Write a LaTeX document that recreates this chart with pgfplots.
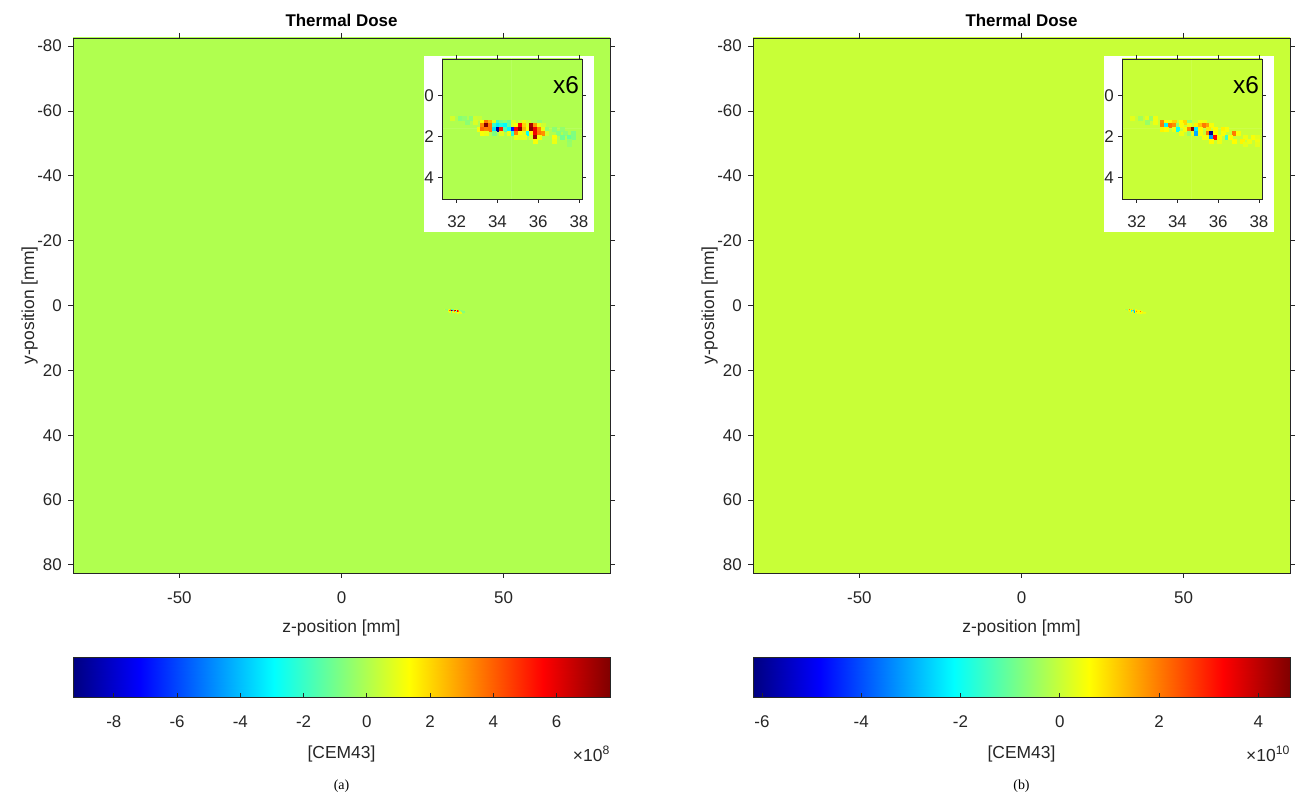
\documentclass[border=0pt]{standalone}
\usepackage{fontspec}
\setmainfont{Liberation Sans}
\newfontfamily\capfont{Liberation Serif}
\usepackage{pgfplots}
\usepackage{pgfplotstable}
\pgfplotsset{compat=1.18}
\definecolor{axgray}{HTML}{262626}

\pgfplotstableread{
x y c
-83 -83 0
83 -83 0
-83 83 0
83 83 0
}\bgtab

\pgfplotstableread{
x y c
31.2 -1.9 0
38.2 -1.9 0
31.2 5.1 0
38.2 5.1 0
}\bgtabinset

% colour bar strips (value axis in units of 1e8 / 1e10; stops of the jet map)
\pgfplotstableread{
x y
-9.29 0
-7.1675 0
-2.9225 0
1.3225 0
5.5675 0
7.69 0
-9.29 1
-7.1675 1
-2.9225 1
1.3225 1
5.5675 1
7.69 1
}\cbtabA

\pgfplotstableread{
x y
-6.18 0
-4.8275 0
-2.1225 0
0.5825 0
3.2875 0
4.64 0
-6.18 1
-4.8275 1
-2.1225 1
0.5825 1
3.2875 1
4.64 1
}\cbtabB

% panel (a): values in units of 1e8 CEM43
\pgfplotstableread{
x y c
31.785 1.085 0.6
32.155 1.085 -0.7
32.34 1.085 -0.5
32.71 1.085 -0.6
32.895 1.085 0.5
33.08 1.085 0.4
32.525 1.27 -0.6
32.895 1.27 0.7
33.265 1.27 1.3
33.45 1.27 3.5
33.635 1.27 2.5
33.82 1.27 0.8
34.005 1.27 -1.8
34.19 1.27 -1.0
34.375 1.27 -0.6
34.56 1.27 -1.2
34.745 1.27 0.7
35.115 1.27 0.5
35.3 1.27 1.0
35.485 1.27 0.5
36.04 1.27 -0.5
33.265 1.455 3.2
33.45 1.455 7.6
33.635 1.455 3.6
33.82 1.455 -2.0
34.005 1.455 -3.2
34.19 1.455 -2.4
34.375 1.455 -3.0
34.56 1.455 -1.2
34.745 1.455 0.8
34.93 1.455 1.2
35.115 1.455 5.6
35.3 1.455 2.0
35.485 1.455 0.9
35.67 1.455 7.0
35.855 1.455 3.0
36.04 1.455 1.0
36.225 1.455 0.5
33.08 1.64 1.1
33.265 1.64 3.8
33.45 1.64 3.4
33.635 1.64 3.6
33.82 1.64 -3.4
34.005 1.64 -9.0
34.19 1.64 5.2
34.375 1.64 -1.6
34.56 1.64 -3.0
34.745 1.64 -6.8
34.93 1.64 5.6
35.115 1.64 7.4
35.3 1.64 2.5
35.485 1.64 1.2
35.67 1.64 7.5
35.855 1.64 5.8
36.04 1.64 3.4
36.225 1.64 1.0
36.41 1.64 -0.5
36.78 1.64 -0.6
37.15 1.64 -0.5
33.265 1.825 1.2
33.45 1.825 1.0
33.82 1.825 -0.8
34.19 1.825 0.8
34.56 1.825 1.0
34.745 1.825 -2.2
34.93 1.825 3.4
35.115 1.825 1.3
35.3 1.825 0.9
35.485 1.825 -2.8
35.67 1.825 1.5
35.855 1.825 5.8
36.04 1.825 3.6
36.225 1.825 3.2
36.41 1.825 0.6
36.965 1.825 -0.7
37.335 1.825 -0.6
37.705 1.825 -0.8
34.93 2.01 1.0
35.115 2.01 0.8
35.3 2.01 0.9
35.67 2.01 0.6
35.855 2.01 7.2
36.04 2.01 1.1
36.78 2.01 1.2
37.15 2.01 -1.0
37.52 2.01 -1.2
37.705 2.01 -0.8
35.855 2.195 1.2
36.78 2.195 1.0
37.52 2.195 -0.5
37.52 2.38 -0.4
}\cellsA

% panel (b): values in units of 1e10 CEM43
\pgfplotstableread{
x y c
31.785 1.085 0.3
32.155 1.085 -0.4
32.525 1.085 0.3
32.71 1.085 -0.5
32.895 1.085 0.4
32.525 1.27 -0.5
32.895 1.27 0.4
33.265 1.27 1.9
33.45 1.27 0.6
33.635 1.27 0.5
33.82 1.27 1.0
34.19 1.27 0.6
34.375 1.27 1.0
34.56 1.27 -0.6
35.115 1.27 0.5
35.3 1.27 0.4
33.265 1.455 2.0
33.45 1.455 -2.2
33.635 1.455 2.1
33.82 1.455 1.8
34.005 1.455 -0.6
34.19 1.455 0.5
34.56 1.455 0.4
34.93 1.455 0.7
35.115 1.455 1.2
35.3 1.455 2.0
35.485 1.455 1.6
35.67 1.455 0.5
33.265 1.64 0.7
33.45 1.64 0.6
33.82 1.64 0.4
34.005 1.64 -2.0
34.375 1.64 0.5
34.56 1.64 1.9
34.745 1.64 4.5
34.93 1.64 -2.3
35.115 1.64 0.6
35.485 1.64 0.8
35.855 1.64 0.6
36.225 1.64 0.7
36.41 1.64 0.5
34.19 1.825 0.4
34.56 1.825 -0.5
34.745 1.825 0.4
34.93 1.825 -3.0
35.115 1.825 0.5
35.485 1.825 2.0
35.67 1.825 -6.0
35.855 1.825 0.6
36.225 1.825 0.5
36.78 1.825 2.0
36.965 1.825 0.5
35.3 2.01 0.5
35.485 2.01 0.4
35.67 2.01 -3.2
35.855 2.01 3.3
36.04 2.01 0.5
36.41 2.01 -1.5
36.595 2.01 0.6
37.335 2.01 0.4
37.705 2.01 0.5
37.89 2.01 0.3
35.67 2.195 0.6
36.04 2.195 0.4
36.78 2.195 0.6
37.15 2.195 0.7
37.52 2.195 0.4
37.89 2.195 0.4
37.335 2.38 0.3
37.89 2.38 0.3
}\cellsB

\pgfplotsset{
  baseax/.style={
    scale only axis, anchor=south west, y dir=reverse, axis on top,
    tick align=outside, xtick pos=both, ytick pos=both,
    major tick length=5bp,
    axis line style={draw=axgray, line width=0.8bp},
    every tick/.style={draw=axgray, line width=0.8bp},
    tick label style={font=\fontsize{17}{20}\selectfont, text=axgray},
    /pgf/number format/assume math mode=true,
    xticklabel style={anchor=base},
    yticklabel style={anchor=east, inner sep=0pt},
    colormap/jet,
    scaled ticks=false,
  },
  mainax/.style={
    baseax, width=537bp, height=535bp,
    xmin=-82.8, xmax=82.8, ymin=-82.5, ymax=82.5,
    xtick={-50,0,50}, ytick={-80,-60,...,80},
    xticklabel shift=26bp, yticklabel shift=6bp,
    title={Thermal Dose},
    title style={at={(axis description cs:0.5,1.0112)}, anchor=base,
      font=\bfseries\fontsize{17}{20}\selectfont, text=black},
    xlabel={z-position [mm]},
    xlabel style={at={(axis description cs:0.5,-0.1103)}, anchor=base,
      font=\fontsize{17.5}{21}\selectfont, text=axgray},
    ylabel={y-position [mm]},
    ylabel style={at={(axis description cs:-0.0726,0.5)}, anchor=base,
      font=\fontsize{17.5}{21}\selectfont, text=axgray},
  },
  cbarax/.style={
    scale only axis, anchor=south west, width=537bp, height=40.4bp,
    axis on top, clip=false,
    ymin=0, ymax=1, ytick=\empty,
    xtick align=inside, xtick pos=left,
    major tick length=5bp,
    axis line style={draw=axgray, line width=0.8bp},
    every tick/.style={draw=axgray, line width=0.8bp},
    tick label style={font=\fontsize{17}{20}\selectfont, text=axgray},
    /pgf/number format/assume math mode=true,
    xticklabel style={anchor=base},
    xticklabel shift=30bp,
    colormap/jet,
    xlabel={{[CEM43]}},
    xlabel style={at={(axis description cs:0.5,-1.493)}, anchor=base,
      font=\fontsize{17.5}{21}\selectfont, text=axgray},
  },
  insetax/.style={
    baseax, width=140bp, height=140bp,
    xmin=31.28, xmax=38.15, ymin=-1.79, ymax=5.04,
    xtick={32,34,36,38}, ytick={0,2,4},
    major tick length=4bp,
    xticklabel shift=25bp, yticklabel shift=4bp,
  },
  cellplot/.style={scatter, only marks, mark=square*, mark size=#1,
    point meta=explicit,
    scatter/use mapped color={draw=mapped color, fill=mapped color},
    every mark/.append style={line width=0.1bp}},
}

\begin{document}
\begin{tikzpicture}[x=1bp,y=1bp]
\useasboundingbox (0,0) rectangle (1296,800);

% ---------------- panel (a)
\begin{axis}[mainax, at={(73bp,227bp)},
  point meta min=-9.29, point meta max=7.69]
  \addplot[matrix plot*, mesh/cols=2, point meta=explicit] table[meta=c] {\bgtab};
  \addplot[cellplot=0.3bp] table[x=x, y=y, meta=c] {\cellsA};
\end{axis}
\begin{axis}[cbarax, at={(73bp,102.3bp)},
  xmin=-9.29, xmax=7.69, point meta min=-9.29, point meta max=7.69,
  xtick={-8,-6,...,6}]
  \addplot[surf, shader=interp, mesh/cols=6, point meta=x] table[x=x, y=y] {\cbtabA};
  \node[anchor=base east, inner sep=0pt,
      font=\fontsize{17.5}{21}\selectfont, text=axgray]
      at (axis description cs:1,-1.567) {×10\textsuperscript{8}};
\end{axis}
\fill[white] (424,568) rectangle (594,744);
\begin{axis}[insetax, at={(442bp,601bp)},
  point meta min=-9.29, point meta max=7.69]
  \addplot[matrix plot*, mesh/cols=2, point meta=explicit] table[meta=c] {\bgtabinset};
  \addplot[cellplot=1.95bp] table[x=x, y=y, meta=c] {\cellsA};
  \node[anchor=base east, inner sep=0pt, font=\fontsize{24.5}{28}\selectfont]
    at (axis description cs:0.979,0.755) {x6};
\end{axis}
\node[anchor=base, font=\capfont\fontsize{14}{16}\selectfont] at (341.5,10) {(a)};

% ---------------- panel (b)
\begin{axis}[mainax, at={(753bp,227bp)},
  point meta min=-6.18, point meta max=4.64]
  \addplot[matrix plot*, mesh/cols=2, point meta=explicit] table[meta=c] {\bgtab};
  \addplot[cellplot=0.3bp] table[x=x, y=y, meta=c] {\cellsB};
\end{axis}
\begin{axis}[cbarax, at={(753bp,102.3bp)},
  xmin=-6.18, xmax=4.64, point meta min=-6.18, point meta max=4.64,
  xtick={-6,-4,...,4}]
  \addplot[surf, shader=interp, mesh/cols=6, point meta=x] table[x=x, y=y] {\cbtabB};
  \node[anchor=base east, inner sep=0pt,
      font=\fontsize{17.5}{21}\selectfont, text=axgray]
      at (axis description cs:1,-1.567) {×10\textsuperscript{10}};
\end{axis}
\fill[white] (1104,568) rectangle (1274,744);
\begin{axis}[insetax, at={(1122bp,601bp)},
  point meta min=-6.18, point meta max=4.64]
  \addplot[matrix plot*, mesh/cols=2, point meta=explicit] table[meta=c] {\bgtabinset};
  \addplot[cellplot=1.95bp] table[x=x, y=y, meta=c] {\cellsB};
  \node[anchor=base east, inner sep=0pt, font=\fontsize{24.5}{28}\selectfont]
    at (axis description cs:0.979,0.755) {x6};
\end{axis}
\node[anchor=base, font=\capfont\fontsize{14}{16}\selectfont] at (1021.5,10) {(b)};
\end{tikzpicture}
\end{document}
